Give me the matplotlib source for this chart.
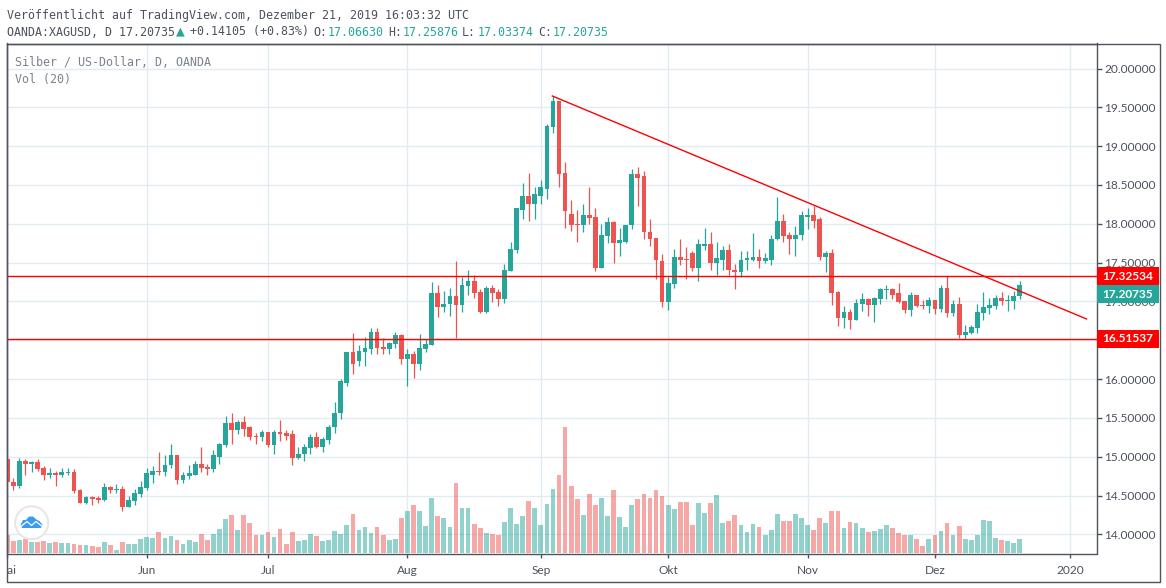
import matplotlib
matplotlib.use('Agg')
import matplotlib.pyplot as plt
from matplotlib.patches import Rectangle, Circle, Polygon
from matplotlib.transforms import Bbox
import numpy as np

opens = [14.97,14.68,14.62,14.94,14.91,14.93,14.85,14.76,14.79,14.76,14.79,14.81,14.57,14.41,14.48,14.47,14.44,14.61,14.57,14.59,14.35,14.43,14.52,14.60,14.77,14.82,14.80,14.89,15.02,
         14.70,14.75,14.77,14.91,14.87,14.84,15.00,15.15,15.43,15.34,15.45,15.38,15.27,15.26,15.32,15.15,15.32,15.31,15.29,14.99,15.03,15.11,15.25,15.12,15.22,15.38,15.56,
         15.95,16.35,16.23,16.35,16.39,16.61,16.41,16.39,16.45,16.57,16.26,16.32,16.20,16.39,16.44,17.11,16.93,16.97,17.07,16.95,17.20,17.27,17.12,16.86,17.17,17.12,17.03,
         17.39,17.66,18.18,18.36,18.25,18.36,18.45,19.25,19.58,18.66,18.13,18.00,17.99,18.12,18.09,17.43,17.84,18.02,17.75,17.77,17.98,18.64,18.61,17.90,17.82,17.52,16.99,17.22,17.57,17.55,17.63,17.43,17.72,17.74,17.49,17.54,17.66,17.41,
         17.38,17.53,17.54,17.57,17.52,17.54,17.80,18.04,17.85,17.80,17.85,18.09,18.11,18.06,17.57,17.63,17.12,16.79,16.86,16.76,16.97,17.03,16.95,17.03,17.15,17.16,17.11,17.00,16.89,17.08,16.95,16.94,17.02,16.90,17.17,16.85,16.97,16.57,16.60,16.66,16.85,16.92,16.94,17.04,17.00,17.00,17.0663]
highs = [14.97,14.73,14.99,14.97,14.95,14.97,14.88,14.85,14.82,14.86,14.86,14.84,14.58,14.49,14.49,14.50,14.66,14.62,14.65,14.62,14.49,14.59,14.69,14.85,14.88,15.06,15.02,15.16,15.02,
         14.80,14.89,14.94,15.13,14.91,15.09,15.18,15.53,15.57,15.48,15.52,15.40,15.31,15.35,15.32,15.34,15.47,15.35,15.35,15.13,15.16,15.30,15.32,15.26,15.41,15.71,16.00,
         16.35,16.59,16.44,16.54,16.66,16.66,16.53,16.48,16.61,16.58,16.39,16.36,16.58,16.52,17.25,17.21,17.14,17.17,17.52,17.32,17.40,17.34,17.16,17.20,17.21,17.16,17.48,
         17.77,18.21,18.52,18.66,18.48,18.57,19.29,19.64,19.58,18.80,18.31,18.18,18.25,18.47,18.20,18.00,18.09,18.04,17.94,17.99,18.71,18.73,18.68,18.06,17.82,17.61,17.31,17.67,17.80,17.70,17.65,17.81,17.95,17.90,17.76,17.71,17.74,17.48,
         17.65,17.65,17.88,17.67,17.62,17.85,18.34,18.13,17.90,17.97,18.17,18.20,18.23,18.09,17.65,17.67,17.13,16.94,16.90,17.03,17.11,17.04,17.06,17.18,17.21,17.18,17.24,17.00,17.12,17.09,17.02,17.06,17.02,17.21,17.33,17.02,17.06,16.70,16.70,16.97,17.12,17.04,17.09,17.12,17.08,17.13,17.25876]
lows = [14.68,14.57,14.60,14.76,14.80,14.82,14.70,14.73,14.62,14.74,14.77,14.53,14.41,14.39,14.38,14.41,14.43,14.53,14.54,14.30,14.35,14.38,14.48,14.57,14.66,14.77,14.75,14.85,14.65,
        14.66,14.72,14.76,14.80,14.77,14.81,14.91,15.12,15.16,15.30,15.27,15.22,15.16,15.21,15.12,15.04,15.20,15.22,14.90,14.97,14.94,15.04,15.11,15.06,15.16,15.31,15.49,
        15.91,16.06,16.17,16.17,16.32,16.32,16.32,16.32,16.40,16.20,15.91,16.02,16.12,16.35,16.44,16.80,16.86,16.81,16.53,16.86,17.09,17.04,16.85,16.85,16.99,16.94,16.98,
        17.39,17.63,18.06,18.04,18.06,18.26,18.32,19.17,18.47,17.95,17.91,17.77,17.89,18.00,17.39,17.43,17.75,17.50,17.58,17.75,17.93,18.23,17.81,17.72,17.29,16.93,16.89,17.18,17.47,17.29,17.39,17.26,17.66,17.41,17.34,17.41,17.34,17.16,
        17.31,17.40,17.52,17.43,17.50,17.47,17.79,17.77,17.61,17.58,17.79,17.93,17.95,17.53,17.38,16.95,16.68,16.66,16.65,16.76,16.88,16.81,16.74,16.97,17.03,17.03,16.98,16.85,16.81,16.93,16.90,16.85,16.84,16.86,16.80,16.81,16.53,16.52,16.58,16.60,16.76,16.84,16.90,16.95,16.88,16.90,17.03374]
closes = [14.68,14.62,14.94,14.91,14.93,14.84,14.77,14.79,14.77,14.80,14.81,14.56,14.41,14.48,14.46,14.44,14.61,14.57,14.59,14.35,14.44,14.53,14.61,14.79,14.82,14.80,14.90,15.02,14.70,
          14.76,14.79,14.91,14.86,14.84,15.02,15.16,15.43,15.34,15.45,15.36,15.26,15.26,15.32,15.15,15.32,15.30,15.27,14.99,15.04,15.12,15.25,15.12,15.23,15.39,15.57,15.97,
          16.35,16.20,16.36,16.40,16.61,16.40,16.39,16.47,16.57,16.26,16.32,16.20,16.40,16.45,17.11,16.93,16.97,17.07,16.95,17.21,17.27,17.11,16.86,17.17,17.11,17.03,17.40,
          17.67,18.20,18.36,18.25,18.38,18.47,19.26,19.58,18.64,18.17,17.99,17.99,18.12,18.08,17.43,17.85,18.02,17.75,17.79,17.99,18.64,18.59,17.89,17.81,17.53,16.99,17.24,17.57,17.54,17.54,17.43,17.74,17.74,17.49,17.56,17.66,17.40,17.38,
          17.54,17.56,17.57,17.52,17.56,17.81,18.04,17.84,17.80,17.86,18.11,18.11,18.04,17.57,17.63,17.11,16.79,16.86,16.76,16.98,17.03,16.95,17.04,17.16,17.16,17.09,16.99,16.89,17.08,16.94,16.94,17.02,16.90,17.17,16.85,16.97,16.57,16.61,16.67,16.86,16.93,16.95,17.04,17.00,17.02,17.07,17.20735]
volumes = [55,37,40,43,34,34,37,31,34,31,31,28,25,25,22,19,34,25,10,34,28,28,43,49,46,64,46,52,40,
           28,40,34,58,40,58,73,103,115,70,115,91,55,55,64,49,73,28,64,37,40,58,52,37,40,67,58,85,118,
           70,79,61,79,55,40,43,106,127,145,127,82,166,112,106,79,211,136,136,88,76,61,58,55,94,136,88,112,157,136,85,148,193,235,379,202,163,115,178,145,166,112,190,109,79,145,163,178,166,190,172,145,133,154,154,85,
           151,121,151,175,91,97,115,85,64,88,79,55,70,118,97,97,118,106,85,70,106,91,127,127,76,94,91,76,64,67,73,85,76,61,55,55,43,22,43,55,67,91,55,82,43,40,55,100,97,46,40,37,31,43]

month_ticks = [0, 23, 43, 66, 88, 109, 132, 153, 175.25]
month_labels = ['Mai', 'Jun', 'Jul', 'Aug', 'Sep', 'Okt', 'Nov', 'Dez', '2020']
price_ticks = [14.0, 14.5, 15.0, 15.5, 16.0, 16.5, 17.0, 17.5, 18.0, 18.5, 19.0, 19.5, 20.0]

resistance = 17.32534
support = 16.51537
last_price = 17.20735
trend_x = [89.9, 178.0]
trend_y = [19.646, 16.775]

GREEN = '#26a69a'
RED = '#ef5350'
LINE_RED = '#ff0000'
GRID = '#e1ecf2'
BORDER = '#50535e'
TEXT = '#4c525e'
W, H = 1166, 588
PANE_L, PANE_R, PANE_T, PANE_B = 6.5, 1096.5, 43.5, 553.5

fig = plt.figure(figsize=(W / 100, H / 100), dpi=100, facecolor='white')
ax = fig.add_axes([PANE_L / W, 1 - PANE_B / H, (PANE_R - PANE_L) / W, (PANE_B - PANE_T) / H])

xmin, xmax = -0.13, 179.65
ymin, ymax = 13.755, 20.322
ax.set_xlim(xmin, xmax)
ax.set_ylim(ymin, ymax)

x = np.arange(len(opens))
o = np.array(opens)
c = np.array(closes)
up = c >= o
colors = [GREEN if u else RED for u in up]

vol_scale = (ymax - ymin) / 1530
ax.bar(x, np.array(volumes) * vol_scale, bottom=ymin, width=0.78, color=colors, alpha=0.5, linewidth=0, zorder=1)

ax.vlines(x, lows, highs, colors=colors, linewidth=0.9, zorder=3)
ax.bar(x, np.maximum(np.abs(c - o), 0.012), bottom=np.minimum(o, c), width=0.78, color=colors, linewidth=0, zorder=3)

ax.axhline(resistance, color=LINE_RED, linewidth=1.0, zorder=4)
ax.axhline(support, color=LINE_RED, linewidth=1.0, zorder=4)
ax.plot(trend_x, trend_y, color=LINE_RED, linewidth=1.0, zorder=4)

ax.set_axisbelow(True)
ax.grid(True, color=GRID, linewidth=1.0)
ax.yaxis.tick_right()
ax.set_yticks(price_ticks)
# 16.5 sits fully under the support price tag, the reference shows nothing there
ax.set_yticklabels(['' if p == 16.5 else f'{p:.5f}' for p in price_ticks])
ax.set_xticks(month_ticks)
ax.set_xticklabels(month_labels)
ax.tick_params(axis='y', length=3.5, width=1, color=BORDER, labelcolor=TEXT, pad=2)
ax.tick_params(axis='x', length=3, width=1, color=BORDER, labelcolor=TEXT, pad=5.5)
for lbl in ax.get_xticklabels() + ax.get_yticklabels():
    lbl.set_fontfamily('Lato')
    lbl.set_fontsize(8.6)
for s in ax.spines.values():
    s.set_color(BORDER)
    s.set_linewidth(1.0)

# the first month label is cut by the outer frame
fig.canvas.draw()
ax.get_xticklabels()[0].set_clip_box(Bbox([[PANE_L, 0], [60, 60]]))
ax.get_xticklabels()[0].set_clip_on(True)

# overlay in pixel coordinates for frame, header, price tags and logo
ov = fig.add_axes([0, 0, 1, 1], zorder=5)
ov.set_xlim(0, W)
ov.set_ylim(H, 0)
ov.axis('off')

ov.add_patch(Rectangle((PANE_L, PANE_T), 1159.5 - PANE_L, 581.5 - PANE_T, fill=False, edgecolor=BORDER, linewidth=1.0))

mono = dict(family='DejaVu Sans Mono', fontsize=8.35, va='center', ha='left')
ov.text(7, 15, 'Veröffentlicht auf TradingView.com, Dezember 21, 2019 16:03:32 UTC', color=TEXT, **mono)
ov.text(7, 32, 'OANDA:XAGUSD, D 17.20735', color=TEXT, **mono)
ov.text(180, 30.5, '▲', color=GREEN, family='DejaVu Sans Mono', fontsize=10.5, va='center', ha='center')
ov.text(190, 32, '+0.14105 (+0.83%)', color=TEXT, **mono)
for lx, vx, lab, val in [(313, 328, 'O:', '17.06630'), (388, 403, 'H:', '17.25876'),
                         (462, 478, 'L:', '17.03374'), (538, 553, 'C:', '17.20735')]:
    ov.text(lx, 32, lab, color=TEXT, **mono)
    ov.text(vx, 32, val, color=GREEN, **mono)

ov.text(15, 63, 'Silber / US-Dollar, D, OANDA', color='#7d828c', **mono)
ov.text(15, 79, 'Vol (20)', color='#7d828c', **mono)

for cy, val, col in [(276, resistance, LINE_RED), (294, last_price, GREEN), (339, support, LINE_RED)]:
    ov.add_patch(Rectangle((1096.5, cy - 9), 62.5, 18, facecolor=col, edgecolor='none'))
    ov.text(1128, cy, f'{val:.5f}', color='white', family='Lato', fontsize=8.6, fontweight='bold', va='center', ha='center')

ov.add_patch(Circle((31.7, 522.7), 16.5, facecolor='white', edgecolor='#e6e6e6', linewidth=1.4))
ov.add_patch(Polygon([(20.5, 525), (23, 520), (26, 520), (29, 516.5), (33, 516.5), (37, 520), (39.5, 521),
                      (42.5, 525), (41, 528), (22, 528)], facecolor='#3a9cf0', edgecolor='none'))
ov.plot([21.5, 27, 31.5, 36, 41.5], [526, 521.5, 525.5, 521.5, 526], color='white', linewidth=0.9)

fig.savefig('out.png', dpi=100, facecolor='white')
